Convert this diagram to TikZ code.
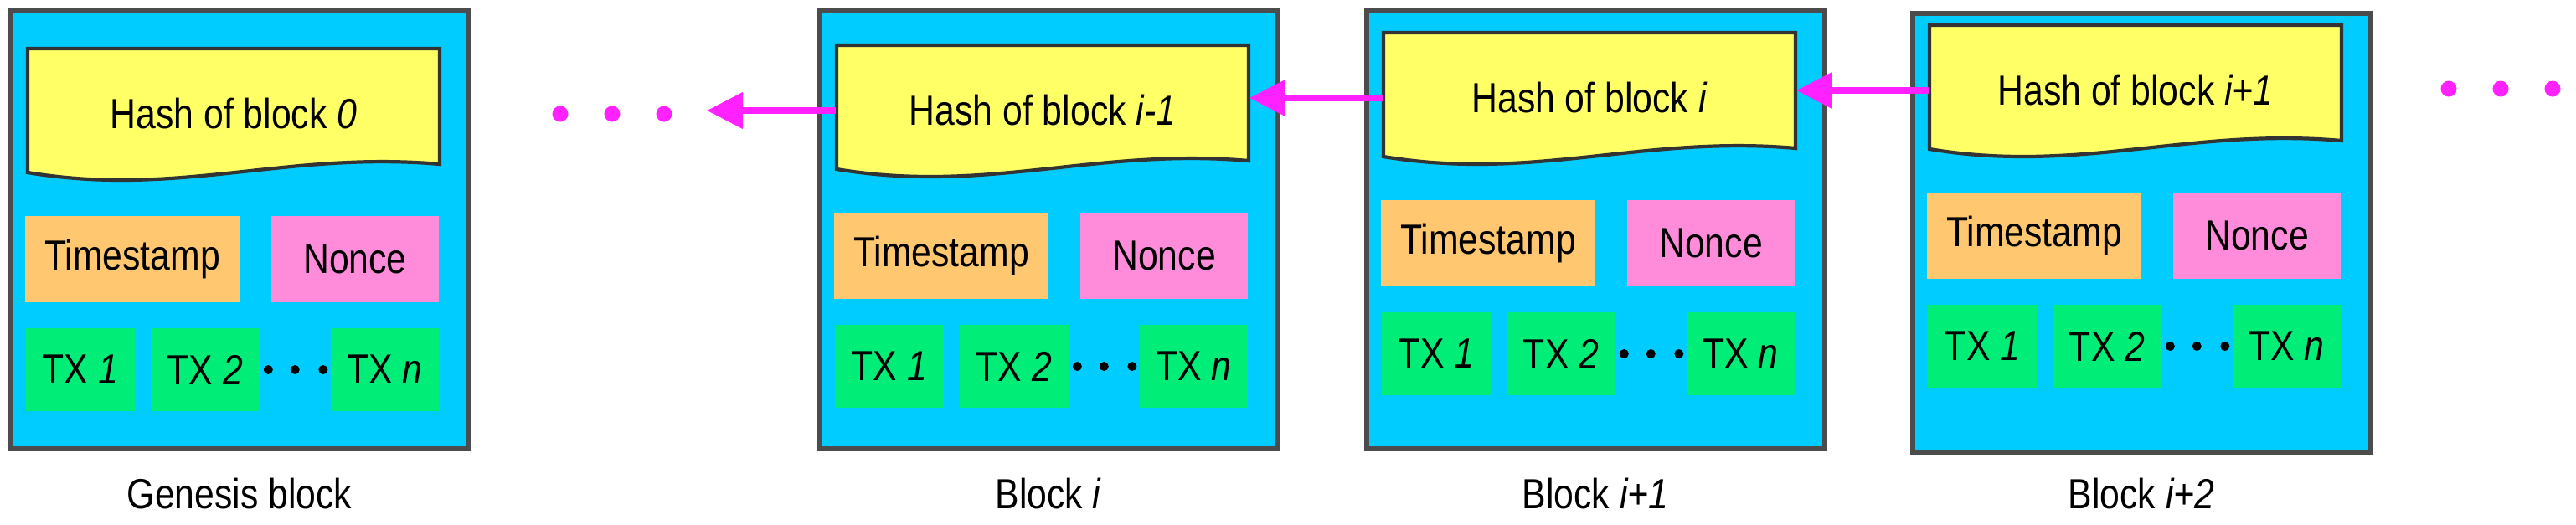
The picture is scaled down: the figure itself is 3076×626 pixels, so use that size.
\documentclass[tikz,border=0pt]{standalone}
\usepackage{fontspec}
\setmainfont{Liberation Sans}[FakeStretch=0.85]
\usetikzlibrary{calc,arrows.meta}
\definecolor{blockc}{HTML}{00CCFF}
\definecolor{hashc}{HTML}{FFFF66}
\definecolor{tsc}{HTML}{FFC870}
\definecolor{noc}{HTML}{FF8CDA}
\definecolor{txc}{HTML}{00EE77}
\definecolor{linkc}{HTML}{FF22FF}
\tikzset{
  blockbox/.style={fill=blockc,draw=black!70,line width=1.5pt},
  hashshape/.style={fill=hashc,draw=black!80,line width=1.2pt},
  txt/.style={font=\fontsize{14.3}{16}\selectfont,inner sep=0pt},
  hashnode/.style={txt,minimum width=4.92cm,minimum height=1.56cm},
  ts/.style={txt,fill=tsc,minimum width=2.56cm,minimum height=1.03cm},
  no/.style={txt,fill=noc,minimum width=2cm,minimum height=1.03cm},
  tx/.style={txt,fill=txc,minimum width=1.29cm,minimum height=0.99cm},
  txdot/.style={fill=black,circle,inner sep=0pt,minimum size=0.11cm},
  mdot/.style={fill=linkc,circle,inner sep=0pt,minimum size=0.19cm},
  link/.style={linkc,line width=2.2pt,-{Triangle[length=0.43cm,width=0.42cm]}}
}
% #1 name, #2 x0, #3 block top, #4 hash top, #5 hash text, #6 label
\newcommand\chainblk[6]{%
  \draw[blockbox] (#2,#3) rectangle (#2+547,#3+524);
  \draw[hashshape] (#2+20,#4) -- (#2+512,#4) -- (#2+512,#4+138)
     .. controls (#2+330,#4+122) and (#2+200,#4+178) .. (#2+20,#4+148) -- cycle;
  \node[hashnode] (#1) at (#2+266,#4+78) {#5};
  \node[ts] (#1ts) at (#2+145,#4+251.5) {Timestamp};
  \node[no] (#1no) at (#2+411,#4+251.5) {Nonce};
  \node[tx] (#1t1) at (#2+83,#4+383.5) {TX \textit{1}};
  \node[tx] (#1t2) at (#2+232,#4+383.5) {TX \textit{2}};
  \node[tx] (#1tn) at (#2+446.5,#4+383.5) {TX \textit{n}};
  \node[txdot] (#1d1) at ($(#1t2.east)!0.12!(#1tn.west)$) {};
  \node[txdot] (#1d2) at ($(#1t2.east)!0.5!(#1tn.west)$) {};
  \node[txdot] (#1d3) at ($(#1t2.east)!0.9!(#1tn.west)$) {};
  \node[txt] (#1lab) at (#2+273,590) {#6};
}
\begin{document}
\begin{tikzpicture}[x=0.01cm,y=-0.01cm]
\useasboundingbox (0,0) rectangle (3076,626);
\chainblk{h0}{13}{12}{58}{Hash of block \textit{0}}{Genesis block}
\chainblk{h1}{979}{12}{54}{Hash of block \textit{i-1}}{Block \textit{i}}
\chainblk{h2}{1632}{12}{39}{Hash of block \textit{i}}{Block \textit{i+1}}
\chainblk{h3}{2284}{16}{30}{Hash of block \textit{i+1}}{Block \textit{i+2}}
\node[mdot] (l1) at (669,136) {};
\node[mdot] (l2) at (731,136) {};
\node[mdot] (l3) at (793,136) {};
\coordinate (ltip) at (844,132);
\node[mdot] (r1) at (2924,106) {};
\node[mdot] (r2) at (2986,106) {};
\node[mdot] (r3) at (3048,106) {};
\draw[link] (h1.west) -- (ltip|-h1.west);
\draw[link] (h2.west) -- (h1.east|-h2.west);
\draw[link] (h3.west) -- (h2.east|-h3.west);
\end{tikzpicture}
\end{document}
